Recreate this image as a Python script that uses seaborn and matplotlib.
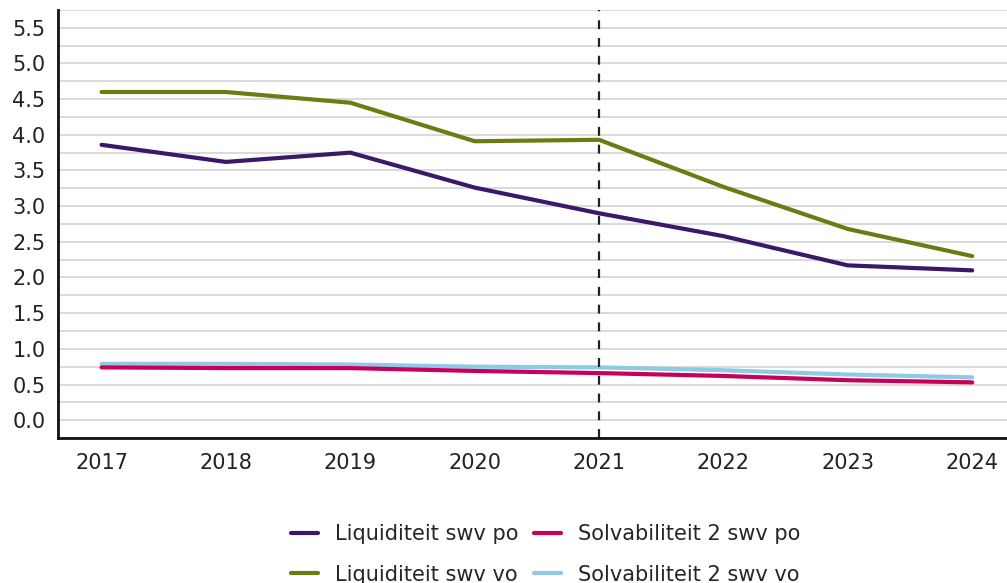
import pandas as pd
import seaborn as sns
import matplotlib.pyplot as plt
from matplotlib.ticker import MultipleLocator

years = [2017, 2018, 2019, 2020, 2021, 2022, 2023, 2024]
liq_po = [3.86, 3.62, 3.75, 3.26, 2.90, 2.58, 2.17, 2.10]
liq_vo = [4.60, 4.60, 4.45, 3.91, 3.93, 3.27, 2.68, 2.30]
solv_po = [0.74, 0.73, 0.73, 0.69, 0.66, 0.62, 0.56, 0.53]
solv_vo = [0.79, 0.79, 0.78, 0.75, 0.74, 0.70, 0.64, 0.60]

series = {
    'Liquiditeit swv po': liq_po,
    'Liquiditeit swv vo': liq_vo,
    'Solvabiliteit 2 swv po': solv_po,
    'Solvabiliteit 2 swv vo': solv_vo,
}
colors = ['#3b1868', '#6e7a12', '#c8005a', '#8ecae6']

df = pd.concat([pd.DataFrame({'Jaar': years, 'Waarde': v, 'Reeks': k}) for k, v in series.items()])

sns.set_style('white')
plt.rcParams['font.family'] = ['DejaVu Sans']

fig = plt.figure(figsize=(10.07, 5.83), dpi=100)
ax = fig.add_axes([0.0576, 0.2487, 0.9424, 0.7342])

# draw order: light blue under magenta
order = ['Solvabiliteit 2 swv vo', 'Solvabiliteit 2 swv po', 'Liquiditeit swv vo', 'Liquiditeit swv po']
pal = dict(zip(series.keys(), colors))
sns.lineplot(data=df, x='Jaar', y='Waarde', hue='Reeks', hue_order=order, palette=pal,
             linewidth=3.0, ax=ax, legend=False)

ax.axvline(2021, color='#222222', linestyle=(0, (4, 4)), linewidth=1.6)

ax.set_xlim(2016.65, 2024.28)
ax.set_ylim(-0.25, 5.75)
ax.yaxis.set_major_locator(MultipleLocator(0.5))
ax.yaxis.set_minor_locator(MultipleLocator(0.25))
ax.set_xticks(years)
ax.grid(True, which='both', axis='y', color='#d0d0d0', linewidth=1.1)
ax.set_axisbelow(True)
ax.set_xlabel('')
ax.set_ylabel('')
for s in ['top', 'right']:
    ax.spines[s].set_visible(False)
for s in ['left', 'bottom']:
    ax.spines[s].set_color('#111111')
    ax.spines[s].set_linewidth(2)
ax.tick_params(axis='both', which='major', direction='out', length=6, width=1.5,
               color='#111111', labelsize=15, labelcolor='#222222')
ax.tick_params(axis='x', pad=5)
ax.tick_params(axis='y', pad=3)
ax.tick_params(axis='y', which='minor', length=0)

handles = [plt.Line2D([], [], color=c, linewidth=3.0) for c in colors]
fig.legend(handles, list(series.keys()), ncol=2, loc='lower center', bbox_to_anchor=(0.542, -0.035),
           frameon=False, fontsize=15, handlelength=1.3, columnspacing=0.75, labelspacing=1.0,
           handletextpad=0.8)

fig.savefig('out.png', dpi=100)
